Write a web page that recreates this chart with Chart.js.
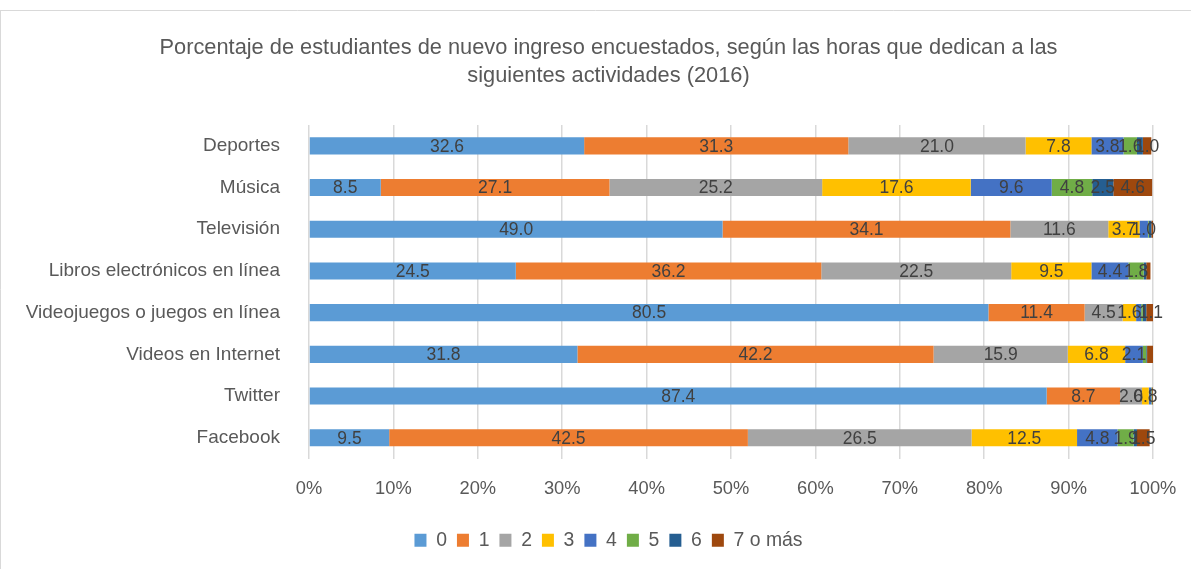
<!DOCTYPE html>
<html>
<head>
<meta charset="utf-8">
<script src="https://cdn.jsdelivr.net/npm/chart.js@4.4.1/dist/chart.umd.min.js"></script>
<style>
html,body{margin:0;padding:0;background:#fff;}
#wrap{width:1191px;height:569px;position:relative;}
</style>
</head>
<body>
<div id="wrap"><canvas id="c" width="1191" height="569"></canvas></div>
<script>
const titleLines = ['Porcentaje de estudiantes de nuevo ingreso encuestados, según las horas que dedican a las', 'siguientes actividades (2016)'];
const categories = ['Deportes', 'Música', 'Televisión', 'Libros electrónicos en línea', 'Videojuegos o juegos en línea', 'Videos en Internet', 'Twitter', 'Facebook'];
const seriesNames = ['0', '1', '2', '3', '4', '5', '6', '7 o más'];
const h0 = [32.6, 8.5, 49.0, 24.5, 80.5, 31.8, 87.4, 9.5];
const h1 = [31.3, 27.1, 34.1, 36.2, 11.4, 42.2, 8.7, 42.5];
const h2 = [21.0, 25.2, 11.6, 22.5, 4.5, 15.9, 2.6, 26.5];
const h3 = [7.8, 17.6, 3.7, 9.5, 1.6, 6.8, 0.8, 12.5];
const h4 = [3.8, 9.6, 1.0, 4.4, 0.6, 2.1, 0.3, 4.8];
const h5 = [1.6, 4.8, 0.1, 1.8, 0.2, 0.4, 0.1, 1.9];
const h6 = [0.7, 2.5, 0.3, 0.3, 0.4, 0.1, 0.0, 0.4];
const h7 = [1.0, 4.6, 0.2, 0.5, 1.1, 0.7, 0.1, 1.5];
const xTickLabels = ['0%', '10%', '20%', '30%', '40%', '50%', '60%', '70%', '80%', '90%', '100%'];

const seriesValues = [h0, h1, h2, h3, h4, h5, h6, h7];
const colors = ['#5B9BD5', '#ED7D31', '#A5A5A5', '#FFC000', '#4472C4', '#70AD47', '#255E91', '#9E480E'];
const FONT = "'Liberation Sans', Arial, sans-serif";
const LABEL_MIN = 0.8;

const dataLabels = {
  id: 'dataLabels',
  afterDatasetsDraw(chart) {
    const ctx = chart.ctx;
    ctx.save();
    ctx.font = '17.5px ' + FONT;
    ctx.fillStyle = '#404040';
    ctx.textAlign = 'center';
    ctx.textBaseline = 'middle';
    chart.data.datasets.forEach((ds, di) => {
      const meta = chart.getDatasetMeta(di);
      meta.data.forEach((el, i) => {
        const v = ds.data[i];
        if (v == null || v < LABEL_MIN) return;
        const p = el.getProps(['x', 'y', 'base'], true);
        ctx.fillText(v.toFixed(1), (p.x + p.base) / 2, p.y + 1);
      });
    });
    ctx.restore();
  }
};

const frame = {
  id: 'frame',
  beforeDraw(chart) {
    const ctx = chart.ctx;
    ctx.save();
    ctx.fillStyle = '#fff';
    ctx.fillRect(0, 0, chart.width, chart.height);
    ctx.strokeStyle = '#d9d9d9';
    ctx.lineWidth = 1;
    ctx.beginPath();
    ctx.moveTo(0, 10.5); ctx.lineTo(chart.width, 10.5);
    ctx.moveTo(0.5, 10.5); ctx.lineTo(0.5, chart.height);
    ctx.stroke();
    ctx.restore();
  }
};

new Chart(document.getElementById('c'), {
  type: 'bar',
  data: {
    labels: categories,
    datasets: seriesNames.map((n, k) => ({
      label: n,
      data: seriesValues[k],
      backgroundColor: colors[k],
      borderWidth: 0,
      barPercentage: 0.41,
      categoryPercentage: 1
    }))
  },
  options: {
    indexAxis: 'y',
    responsive: false,
    animation: false,
    devicePixelRatio: 1,
    layout: { padding: { left: 64, right: 38, top: 0, bottom: 9 } },
    plugins: {
      title: {
        display: true,
        text: titleLines,
        color: '#595959',
        font: { family: FONT, size: 21.8, weight: 'normal', lineHeight: 1.33 },
        padding: { top: 33, bottom: 34 }
      },
      legend: {
        position: 'bottom',
        labels: {
          color: '#595959',
          font: { family: FONT, size: 19.4 },
          boxWidth: 12,
          boxHeight: 13,
          padding: 10
        }
      },
      tooltip: { enabled: false }
    },
    scales: {
      x: {
        stacked: true,
        min: 0,
        max: 100,
        grid: { color: '#d9d9d9', lineWidth: 1.5, drawTicks: true, tickLength: 19, tickColor: 'rgba(0,0,0,0)' },
        border: { display: false },
        ticks: {
          stepSize: 10,
          color: '#595959',
          font: { family: FONT, size: 18.3 },
          padding: 0,
          callback: (v, i) => xTickLabels[i]
        },
        afterFit(scale) { scale.height = 62; }
      },
      y: {
        stacked: true,
        grid: { display: false },
        border: { display: false },
        ticks: {
          color: '#595959',
          font: { family: FONT, size: 19 },
          padding: 21
        },
        afterFit(scale) {
          scale.width = 245;
          scale._computeLabelArea = function () { return undefined; };
        }
      }
    }
  },
  plugins: [frame, dataLabels]
});
</script>
</body>
</html>
